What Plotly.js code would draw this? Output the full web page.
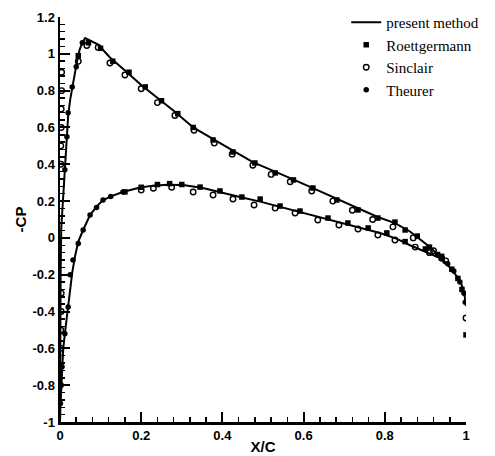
<!DOCTYPE html>
<html>
<head>
<meta charset="utf-8">
<script src="https://cdn.plot.ly/plotly-3.0.1.min.js"></script>
<style>html,body{margin:0;padding:0;background:#fff;}#chart{width:495px;height:456px;}</style>
</head>
<body>
<div id="chart"></div>
<script>
// present method: upper surface (-Cp vs x/c)
const xUpper  = [0, 0.0005, 0.0015, 0.003, 0.006, 0.01, 0.012, 0.017, 0.02, 0.025, 0.03, 0.037, 0.042, 0.048, 0.055, 0.062, 0.094, 0.123, 0.16, 0.2, 0.24, 0.283, 0.328, 0.377, 0.424, 0.475, 0.53, 0.567, 0.623, 0.672, 0.734, 0.781, 0.825, 0.862, 0.9, 0.936, 0.96, 0.985, 0.995, 1.0];
const cpUpper = [-1, -0.6, -0.2, 0.05, 0.2, 0.32, 0.37, 0.55, 0.66, 0.75, 0.82, 0.9, 0.96, 1.02, 1.06, 1.085, 1.05, 0.98, 0.91, 0.83, 0.76, 0.685, 0.6, 0.535, 0.477, 0.412, 0.36, 0.325, 0.27, 0.222, 0.16, 0.115, 0.08, 0.035, -0.03, -0.1, -0.16, -0.23, -0.29, -0.37];
// present method: lower surface
const xLower  = [0, 0.001, 0.003, 0.005, 0.008, 0.012, 0.016, 0.02, 0.026, 0.03, 0.037, 0.045, 0.057, 0.074, 0.09, 0.106, 0.13, 0.155, 0.197, 0.23, 0.263, 0.303, 0.352, 0.394, 0.443, 0.493, 0.54, 0.591, 0.64, 0.69, 0.74, 0.788, 0.83, 0.862, 0.9, 0.936, 0.96, 0.985, 0.995, 1.0];
const cpLower = [-1, -0.92, -0.82, -0.7, -0.6, -0.52, -0.44, -0.375, -0.25, -0.19, -0.1, -0.02, 0.043, 0.124, 0.17, 0.206, 0.23, 0.249, 0.274, 0.284, 0.289, 0.287, 0.271, 0.247, 0.222, 0.197, 0.17, 0.14, 0.112, 0.086, 0.056, 0.027, -0.005, -0.04, -0.075, -0.11, -0.16, -0.23, -0.29, -0.37];

// Roettgermann (filled squares)
const roettX = [0.045, 0.07, 0.1, 0.13, 0.17, 0.21, 0.25, 0.29, 0.328, 0.377, 0.426, 0.48, 0.53, 0.575, 0.623, 0.682, 0.734, 0.783, 0.825, 0.85, 0.88, 0.91, 0.94, 0.965, 0.98, 0.99, 1.0,
                0.16, 0.2, 0.24, 0.27, 0.3, 0.345, 0.394, 0.448, 0.493, 0.542, 0.591, 0.66, 0.709, 0.759, 0.805, 0.85, 0.9, 0.93];
const roettY = [0.99, 1.06, 1.03, 0.96, 0.9, 0.82, 0.745, 0.675, 0.6, 0.532, 0.467, 0.407, 0.353, 0.315, 0.271, 0.206, 0.152, 0.108, 0.086, 0.043, 0.01, -0.05, -0.1, -0.17, -0.22, -0.28, -0.527,
                0.25, 0.275, 0.29, 0.295, 0.29, 0.276, 0.255, 0.222, 0.211, 0.173, 0.146, 0.108, 0.081, 0.054, 0.027, -0.02, -0.06, -0.09];
// Sinclair (open circles)
const sincX = [0.004, 0.004, 0.003, 0.003, 0.002, 0.002, 0.045, 0.066, 0.094, 0.123, 0.16, 0.2, 0.24, 0.283, 0.33, 0.38, 0.424, 0.475, 0.52, 0.567, 0.62, 0.672, 0.72, 0.77, 0.82, 0.87, 0.92, 0.95, 1.0,
               0.003, 0.003, 0.002, 0.002, 0.001, 0.001, 0.2, 0.23, 0.275, 0.328, 0.377, 0.426, 0.478, 0.53, 0.579, 0.635, 0.687, 0.734, 0.783, 0.825, 0.875, 0.91, 0.94];
const sincY = [0.9, 0.8, 0.7, 0.6, 0.5, 0.4, 0.96, 1.045, 1.035, 0.95, 0.885, 0.81, 0.735, 0.665, 0.585, 0.515, 0.455, 0.395, 0.345, 0.305, 0.255, 0.2, 0.15, 0.1, 0.06, 0.0, -0.07, -0.125, -0.435,
               -0.3, -0.4, -0.5, -0.6, -0.7, -0.8, 0.26, 0.27, 0.275, 0.249, 0.233, 0.211, 0.179, 0.162, 0.135, 0.097, 0.07, 0.048, 0.016, -0.011, -0.05, -0.08, -0.11];
// Theurer (filled circles)
const theuX = [0.001, 0.005, 0.012, 0.02, 0.025, 0.032, 0.045, 0.057, 0.074, 0.09, 0.106, 0.125, 0.155,
               0.012, 0.017, 0.02, 0.03, 0.04, 0.055,
               0.955, 0.97, 0.985, 0.995, 0.998];
const theuY = [-0.9, -0.7, -0.52, -0.375, -0.2, -0.12, -0.03, 0.043, 0.124, 0.165, 0.206, 0.225, 0.249,
               0.37, 0.55, 0.68, 0.82, 0.93, 1.06,
               -0.14, -0.18, -0.24, -0.3, -0.35];

const xTickVals = [0, 0.2, 0.4, 0.6, 0.8, 1];
const xTickText = ['0', '0.2', '0.4', '0.6', '0.8', '1'];
const yTickVals = [-1, -0.8, -0.6, -0.4, -0.2, 0, 0.2, 0.4, 0.6, 0.8, 1, 1.2];
const yTickText = ['-1', '-0.8', '-0.6', '-0.4', '-0.2', '0', '0.2', '0.4', '0.6', '0.8', '1', '1.2'];

const lineX = xUpper.slice().reverse().concat(xLower);
const lineY = cpUpper.slice().reverse().concat(cpLower);

const traces = [
  {x: lineX, y: lineY, mode: 'lines', name: 'present method', line: {color: '#000', width: 2}},
  {x: roettX, y: roettY, mode: 'markers', name: 'Roettgermann', marker: {symbol: 'square', size: 5.5, color: '#000'}},
  {x: sincX, y: sincY, mode: 'markers', name: 'Sinclair', marker: {symbol: 'circle-open', size: 5.5, color: '#000', line: {width: 1.4}}},
  {x: theuX, y: theuY, mode: 'markers', name: 'Theurer', marker: {symbol: 'circle', size: 5.5, color: '#000'}}
];

const tickFont = {family: 'Liberation Sans, Arial, sans-serif', size: 13, color: '#000', weight: 'bold'};
const layout = {
  width: 495, height: 456,
  margin: {l: 60, r: 29, t: 17, b: 34, autoexpand: false},
  paper_bgcolor: '#fff', plot_bgcolor: '#fff',
  showlegend: true,
  legend: {x: 0.705, y: 1.027, xanchor: 'left', yanchor: 'top', bgcolor: 'rgba(0,0,0,0)',
           font: {family: 'Liberation Serif, Times New Roman, serif', size: 15, color: '#000'}},
  xaxis: {range: [0, 1], showgrid: false, zeroline: false, showline: true, linecolor: '#000', linewidth: 2.5,
          ticks: 'inside', ticklen: 10, tickwidth: 2, tickcolor: '#000',
          tickmode: 'array', tickvals: xTickVals, ticktext: xTickText, tickfont: tickFont,
          minor: {ticks: 'inside', ticklen: 5, tickwidth: 1.5, tickcolor: '#000', dtick: 0.04, tick0: 0, showgrid: false},
          title: {text: 'X/C', font: {family: 'Liberation Sans, Arial, sans-serif', size: 15, color: '#000', weight: 'bold'}, standoff: 0}},
  yaxis: {range: [-1, 1.2], showgrid: false, zeroline: false, showline: true, linecolor: '#000', linewidth: 2.5,
          ticks: 'inside', ticklen: 10, tickwidth: 2, tickcolor: '#000',
          tickmode: 'array', tickvals: yTickVals, ticktext: yTickText, tickfont: tickFont,
          minor: {ticks: 'inside', ticklen: 5, tickwidth: 1.5, tickcolor: '#000', dtick: 0.04, tick0: 0, showgrid: false},
          title: {text: '-CP', font: {family: 'Liberation Sans, Arial, sans-serif', size: 15, color: '#000', weight: 'bold'}, standoff: 2}}
};

Plotly.newPlot('chart', traces, layout, {displayModeBar: false, staticPlot: true});
</script>
</body>
</html>
